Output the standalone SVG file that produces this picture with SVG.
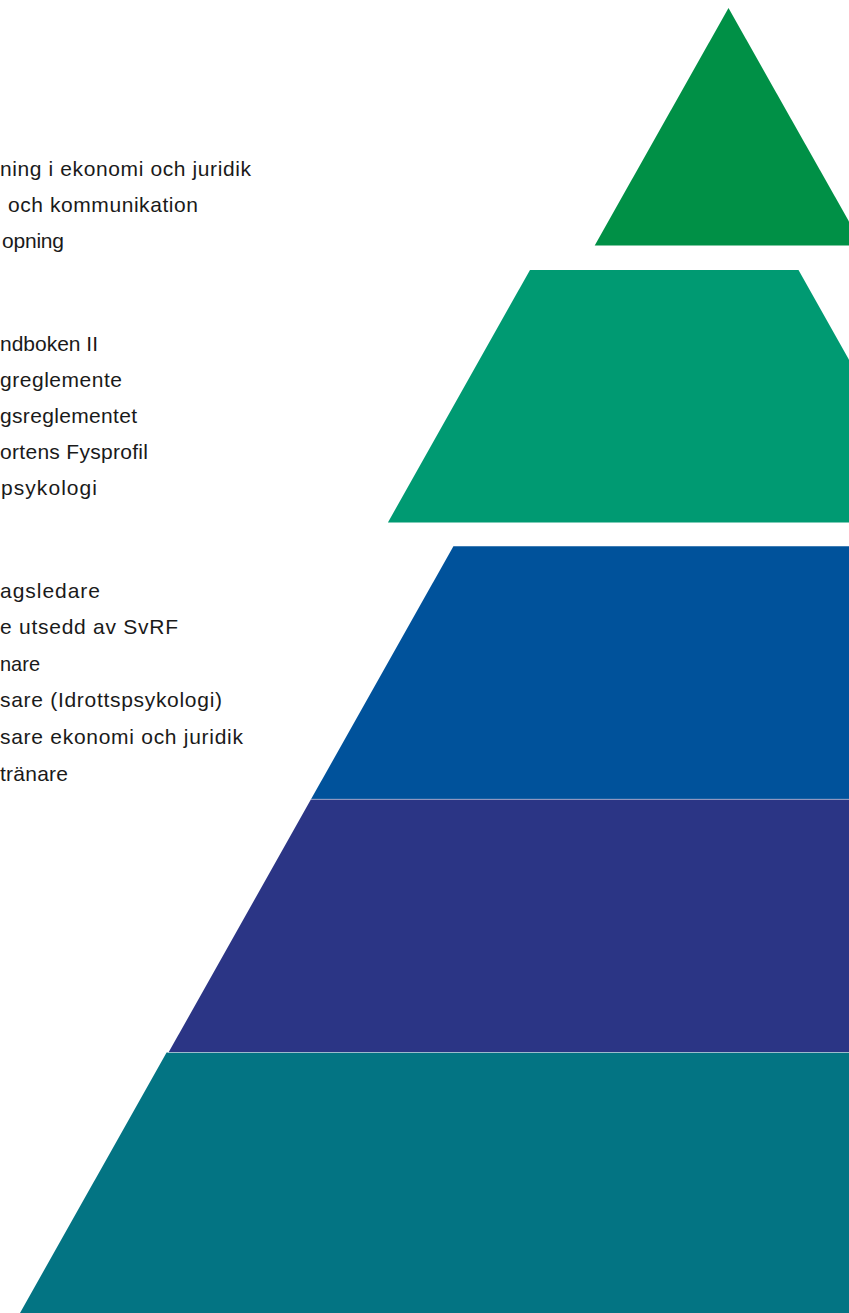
<svg xmlns="http://www.w3.org/2000/svg" width="849" height="1313" viewBox="0 0 849 1313">
  <style>
    .lbl { font-family: "Liberation Sans", Arial, Helvetica, sans-serif; font-size: 21px; fill: #1a1a1a; }
    .sep { stroke: #ffffff; stroke-opacity: 0.45; stroke-width: 1; }
  </style>
  <rect x="0" y="0" width="849" height="1313" fill="#ffffff"/>
  <g id="tier1">
    <polygon points="728.5,8 862.5,245.5 594.7,245.5" fill="#009046"/>
  </g>
  <g id="tier2">
    <polygon points="530,270 798.5,270 940.6,522.5 387.9,522.5" fill="#009A72"/>
  </g>
  <g id="tier3">
    <polygon points="453.4,546.3 1100,546.3 1100,799.3 311,799.3" fill="#00529B"/>
  </g>
  <g id="tier4">
    <polygon points="311,799.3 1100,799.3 1100,1052.5 168.5,1052.5" fill="#2B3585"/>
  </g>
  <g id="tier5">
    <polygon points="166.6,1052.5 1100,1052.5 1100,1313 20,1313" fill="#037483"/>
  </g>
  <g id="connectors">
    <line class="sep" x1="311" y1="799.3" x2="849" y2="799.3"/>
    <line class="sep" x1="168" y1="1052.5" x2="849" y2="1052.5"/>
  </g>
  <g id="labels-top">
    <text class="lbl" x="0" y="176" textLength="251" lengthAdjust="spacing">ning i ekonomi och juridik</text>
    <text class="lbl" x="8" y="212" textLength="190" lengthAdjust="spacing">och kommunikation</text>
    <text class="lbl" x="2" y="248" textLength="62" lengthAdjust="spacing">opning</text>
  </g>
  <g id="labels-middle">
    <text class="lbl" x="0" y="351" textLength="98" lengthAdjust="spacing">ndboken II</text>
    <text class="lbl" x="0" y="387" textLength="122" lengthAdjust="spacing">greglemente</text>
    <text class="lbl" x="0" y="423" textLength="137" lengthAdjust="spacing">gsreglementet</text>
    <text class="lbl" x="0" y="459" textLength="148" lengthAdjust="spacing">ortens Fysprofil</text>
    <text class="lbl" x="1" y="495" textLength="96" lengthAdjust="spacing">psykologi</text>
  </g>
  <g id="labels-bottom">
    <text class="lbl" x="0" y="598" textLength="100" lengthAdjust="spacing">agsledare</text>
    <text class="lbl" x="0" y="634" textLength="178" lengthAdjust="spacing">e utsedd av SvRF</text>
    <text class="lbl" x="0" y="671" textLength="40" lengthAdjust="spacingAndGlyphs">nare</text>
    <text class="lbl" x="0" y="707" textLength="222" lengthAdjust="spacing">sare (Idrottspsykologi)</text>
    <text class="lbl" x="0" y="744" textLength="243" lengthAdjust="spacing">sare ekonomi och juridik</text>
    <text class="lbl" x="0" y="781" textLength="68" lengthAdjust="spacing">tränare</text>
  </g>
</svg>
